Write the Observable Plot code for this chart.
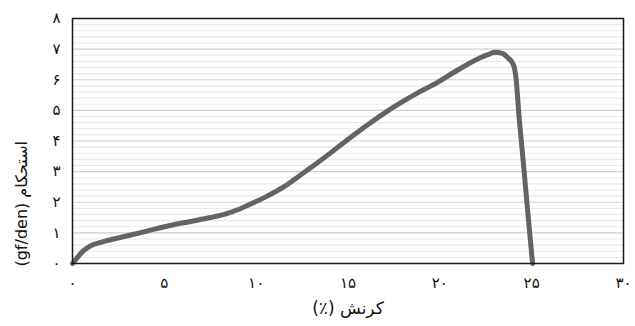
<!DOCTYPE html>
<html>
<head>
<meta charset="utf-8">
<script src="https://cdn.jsdelivr.net/npm/d3@7"></script>
<script src="https://cdn.jsdelivr.net/npm/@observablehq/plot@0.6"></script>
<style>
  body { margin: 0; background: #fff; }
  #chart text { font-family: "DejaVu Sans", sans-serif; }
</style>
</head>
<body>
<div id="chart"></div>
<script>
// Data
const strain   = [0, 0.3, 0.6, 1.0, 1.6, 2.6, 4.0, 5.3, 6.5, 7.5, 8.4, 9.1, 9.7, 10.6, 11.5, 12.4, 13.3, 14.2, 15.1, 16.0, 16.9, 17.9, 18.8, 19.9, 20.7, 21.5, 22.2, 22.7, 23.0, 23.4, 23.7, 24.0, 24.15, 24.3, 24.55, 24.8, 25.05];
const strength = [0, 0.22, 0.42, 0.58, 0.7, 0.85, 1.05, 1.24, 1.38, 1.5, 1.63, 1.78, 1.94, 2.2, 2.5, 2.88, 3.27, 3.68, 4.1, 4.5, 4.88, 5.26, 5.57, 5.92, 6.22, 6.5, 6.72, 6.84, 6.9, 6.86, 6.72, 6.5, 6.05, 4.9, 3.27, 1.6, 0];

const xTicks = [0, 5, 10, 15, 20, 25, 30];
const xTickLabels = ["۰", "۵", "۱۰", "۱۵", "۲۰", "۲۵", "۳۰"];
const yTicks = [0, 1, 2, 3, 4, 5, 6, 7, 8];
const yTickLabels = ["۰", "۱", "۲", "۳", "۴", "۵", "۶", "۷", "۸"];
const yMinorGrid = d3.range(0, 40).map(i => i / 5).filter(v => !Number.isInteger(v));
const xLabel = "کرنش (٪)";
const yLabel = "استحکام (gf/den)";

const data = strain.map((x, i) => ({x, y: strength[i]}));

const plot = Plot.plot({
  width: 635,
  height: 326,
  marginLeft: 72,
  marginRight: 12,
  marginTop: 18,
  marginBottom: 63,
  style: {fontSize: "15px", fontFamily: "DejaVu Sans, sans-serif", background: "#fff", color: "#111"},
  x: {domain: [0, 30]},
  y: {domain: [0, 8]},
  marks: [
    Plot.ruleY(yMinorGrid, {stroke: "#e9e9e9", strokeWidth: 1.2}),
    Plot.ruleY(yTicks, {stroke: "#cfcfcf", strokeWidth: 1.2}),
    Plot.axisX(xTicks, {tickSize: 0, tickPadding: 14, tickFormat: (d) => xTickLabels[xTicks.indexOf(d)], label: null, fontSize: 15}),
    Plot.axisY(yTicks, {tickSize: 0, tickPadding: 12, tickFormat: (d) => yTickLabels[yTicks.indexOf(d)], label: null, fontSize: 15}),
    Plot.line(data, {x: "x", y: "y", stroke: "#646464", strokeWidth: 5, curve: "monotone-x", strokeLinejoin: "round"}),
    Plot.frame({stroke: "#1a1a1a", strokeWidth: 1.5}),
    Plot.text([xLabel], {frameAnchor: "bottom", dy: 50, fontSize: 17, fill: "#111"}),
    Plot.text([yLabel], {frameAnchor: "left", dx: -51, rotate: -90, fontSize: 16, fill: "#111", fontFamily: "Liberation Sans, DejaVu Sans, sans-serif"})
  ]
});

plot.querySelectorAll("text").forEach(t => {
  if (/[\u0600-\u06FF]/.test(t.textContent) && t.textContent.length > 3) {
    t.setAttribute("direction", "rtl");
    t.style.direction = "rtl";
    t.style.unicodeBidi = "embed";
  }
});

document.getElementById("chart").appendChild(plot);
</script>
</body>
</html>
